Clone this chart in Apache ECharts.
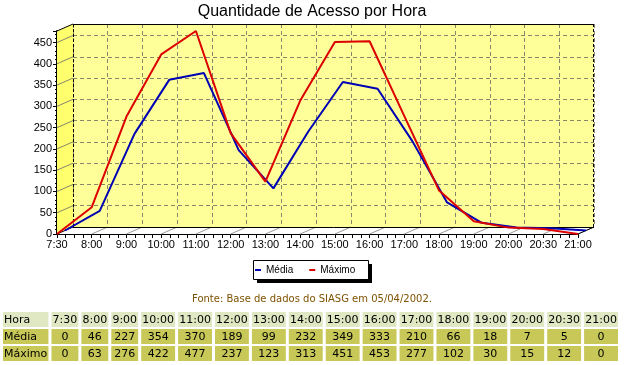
<!DOCTYPE html>
<html><head><meta charset="utf-8">
<script src="https://cdn.jsdelivr.net/npm/echarts@6/dist/echarts.min.js"></script>
<style>html,body{margin:0;padding:0;background:#fff}#c{width:624px;height:365px}</style>
</head><body><div id="c"></div>
<script>
// ---- data ----
const hours = ['7:30','8:00','9:00','10:00','11:00','12:00','13:00','14:00','15:00','16:00','17:00','18:00','19:00','20:00','20:30','21:00'];
const media = [0,46,227,354,370,189,99,232,349,333,210,66,18,7,5,0];
const maximo = [0,63,276,422,477,237,123,313,451,453,277,102,30,15,12,0];
const seriesNames = ['Média','Máximo'];
const rowHeader = 'Hora';
const titleText = 'Quantidade de Acesso por Hora';
const sourceText = 'Fonte: Base de dados do SIASG em 05/04/2002.';
const yStep = 50;

// ---- layout / style ----
const yMax = Math.max(...maximo);
const xMax = hours.length - 1;
const FRONT = {left:57, top:31, right:46, bottom:131};
const DX = 16, DY = -7;
const grid = (f) => ({left:FRONT.left + DX*f, top:FRONT.top + DY*f, right:FRONT.right - DX*f, bottom:FRONT.bottom - DY*f});
const AXF = 'Liberation Sans, Arial, sans-serif';
const TBF = '"DejaVu Sans", Verdana, sans-serif';
const BLUE = '#0000b4', RED = '#dc0000';
const GRIDC = '#86866a';

const chart = echarts.init(document.getElementById('c'), null, {renderer:'canvas'});
const pts = arr => arr.map((v,i)=>[i,v]);

const hiddenX = (gi) => ({gridIndex:gi, type:'value', min:0, max:xMax, interval:1, show:false});
const hiddenY = (gi) => ({gridIndex:gi, type:'value', min:0, max:yMax, interval:yStep, show:false});

chart.setOption({
  animation:false,
  title:{text:titleText, left:'center', top:4, padding:0,
    textStyle:{fontFamily:AXF, fontSize:16, fontWeight:'normal', color:'#000'}},
  grid:[
    Object.assign(grid(0), {}),
    Object.assign(grid(0.5), {}),
    Object.assign(grid(1), {show:true, backgroundColor:'#ffff99', borderWidth:0})
  ],
  xAxis:[
    {gridIndex:0, type:'value', min:0, max:xMax, interval:1,
      axisLine:{lineStyle:{color:'#000', width:2}},
      axisTick:{length:4, lineStyle:{color:'#000'}},
      minorTick:{show:true, splitNumber:4, length:4, lineStyle:{color:'#000'}},
      axisLabel:{formatter:v=>hours[v], fontFamily:AXF, fontSize:11, color:'#000', margin:5},
      splitLine:{show:false}},
    hiddenX(1),
    {gridIndex:2, type:'value', min:0, max:xMax, interval:1,
      axisLine:{show:false}, axisTick:{show:false}, axisLabel:{show:false},
      splitLine:{show:true, lineStyle:{color:GRIDC, type:[4,3], width:1}}}
  ],
  yAxis:[
    {gridIndex:0, type:'value', min:0, max:yMax, interval:yStep,
      axisLine:{show:true, lineStyle:{color:'#000', width:2}},
      axisTick:{show:true, length:4, lineStyle:{color:'#000'}},
      minorTick:{show:true, splitNumber:5, length:2, lineStyle:{color:'#000'}},
      axisLabel:{fontFamily:AXF, fontSize:11, color:'#000', margin:5, showMaxLabel:false},
      splitLine:{show:false}},
    hiddenY(1),
    {gridIndex:2, type:'value', min:0, max:yMax, interval:yStep,
      axisLine:{show:false}, axisTick:{show:false}, axisLabel:{show:false},
      splitLine:{show:true, lineStyle:{color:GRIDC, type:[4,3], width:1}}}
  ],
  legend:{data:seriesNames, icon:'rect', itemWidth:6, itemHeight:2, left:255, top:263, padding:0,
    itemGap:16, textStyle:{fontFamily:AXF, fontSize:10, color:'#000', lineHeight:14}, z:20},
  series:[
    {name:seriesNames[0], type:'line', xAxisIndex:1, yAxisIndex:1, data:pts(media),
      symbol:'none', color:BLUE, lineStyle:{width:2, color:BLUE}, z:5},
    {name:seriesNames[1], type:'line', xAxisIndex:0, yAxisIndex:0, data:pts(maximo),
      symbol:'none', color:RED, lineStyle:{width:2, color:RED}, z:6}
  ]
});

// ---- 3D frame, legend box, source text and data table ----
const F = (x,y) => chart.convertToPixel({gridIndex:0}, [x,y]);
const B = (x,y) => chart.convertToPixel({gridIndex:2}, [x,y]);
const g = [];
const line = (a,b,stroke,extra) => g.push(Object.assign({type:'line', z:3, silent:true,
  shape:{x1:a[0], y1:a[1], x2:b[0], y2:b[1]}, style:{stroke, lineWidth:1}}, extra||{}));
// left wall
g.push({type:'polygon', z:1, shape:{points:[F(0,yMax),B(0,yMax),B(0,0),F(0,0)]}, style:{fill:'#ffff6e'}});
// floor
g.push({type:'polygon', z:1, shape:{points:[F(0,0),F(xMax,0),B(xMax,0),B(0,0)]}, style:{fill:'#ffffff'}});
for (let k=1;k<=xMax;k++) line(F(k,0), B(k,0), '#9a9a9a');
for (let v=yStep; v<yMax; v+=yStep) line(F(0,v), B(0,v), GRIDC);
// edges
const b00 = B(0,0), b0m = B(0,yMax), bm0 = B(xMax,0), bmm = B(xMax,yMax);
line([b0m[0], Math.round(b0m[1])+0.5], [bmm[0], Math.round(bmm[1])+0.5], '#000');
line([b00[0], Math.round(b00[1])+0.5], [bm0[0], Math.round(bm0[1])+0.5], '#000');
line([Math.round(b00[0])+0.5, b00[1]], [Math.round(b0m[0])+0.5, b0m[1]], '#000', {style:{stroke:'#000', lineWidth:1, lineDash:[3,2]}});
line([Math.round(bm0[0])-0.5, bm0[1]], [Math.round(bmm[0])-0.5, bmm[1]], '#000', {style:{stroke:'#000', lineWidth:1, lineDash:[3,2]}});
line(F(0,yMax), B(0,yMax), '#000');
line(F(0,0), B(0,0), '#000');
line(F(xMax,0), B(xMax,0), '#000');

// legend frame with shadow
g.push({type:'rect', z:0, shape:{x:257, y:264, width:115, height:19}, style:{fill:'#000'}});
g.push({type:'rect', z:1, shape:{x:253.5, y:260.5, width:115, height:19}, style:{fill:'#fff', stroke:'#000', lineWidth:1}});

// source
g.push({type:'text', z:5, x:312, y:299, style:{text:sourceText, fill:'#7f5200', font:'10px '+TBF, align:'center', verticalAlign:'middle', textAlign:'center', textVerticalAlign:'middle'}});

// table
const rows = [[rowHeader].concat(hours), [seriesNames[0]].concat(media), [seriesNames[1]].concat(maximo)];
const ctx = document.createElement('canvas').getContext('2d');
ctx.font = '11px ' + TBF;
const nCol = rows[0].length;
const tw = [];
for (let c=0;c<nCol;c++) tw.push(Math.max(...rows.map(r=>ctx.measureText(String(r[c])).width)));
const tableLeft = 3, tableRight = 618, colGap = 3;
const pad = (tableRight - tableLeft - colGap*(nCol-1) - tw.reduce((a,b)=>a+b,0)) / nCol;
const rowTop = [312, 329, 346], rowH = 15;
const rowFill = ['#dfe7c3', '#c8c858', '#c8c858'];
for (let r=0;r<rows.length;r++) {
  let x = tableLeft;
  for (let c=0;c<nCol;c++) {
    const w = tw[c] + pad;
    g.push({type:'rect', z:2, shape:{x:x, y:rowTop[r], width:w, height:rowH}, style:{fill:rowFill[r]}});
    const tx = c===0 ? x+1 : x + w/2;
    g.push({type:'text', z:3, x:tx, y:rowTop[r]+rowH/2+0.5, style:{text:String(rows[r][c]), fill:'#000', font:'11px '+TBF,
      align:c===0?'left':'center', verticalAlign:'middle', textAlign:c===0?'left':'center', textVerticalAlign:'middle'}});
    x += w + colGap;
  }
}
chart.setOption({graphic:{elements:g}});
</script>
</body></html>
